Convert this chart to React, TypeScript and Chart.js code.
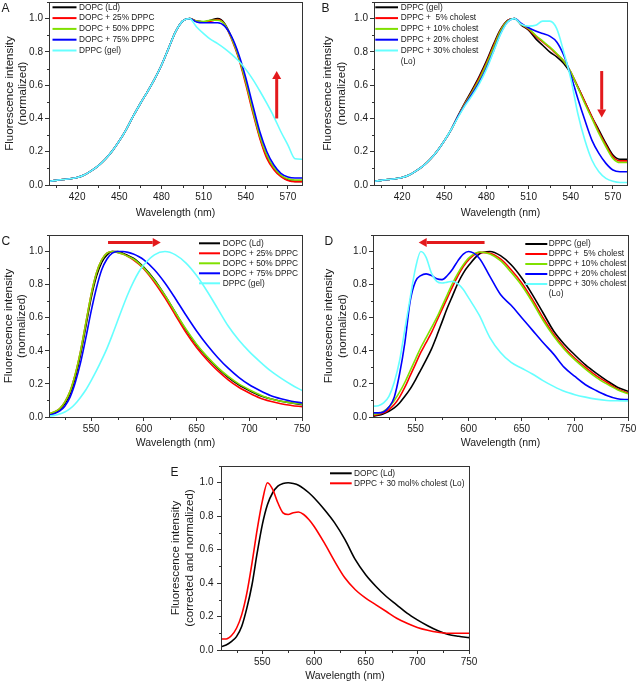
import React, { useEffect, useRef } from 'react';
import { Chart, registerables } from 'chart.js';

Chart.register(...registerables);

const FONT_FAMILY = "'Liberation Sans', Arial, Helvetica, sans-serif";
const AXIS_COLOR = '#333333';
const TEXT_COLOR = '#1a1a1a';
const ARROW_COLOR = '#e3191c';
const C_BLACK = '#000000';
const C_RED = '#ff0000';
const C_GREEN = '#80e000';
const C_BLUE = '#0000ff';
const C_CYAN = '#66ffff';

// ---------- Panels A & B: wavelength 400-580 nm ----------
const wlAB = [400, 405, 410, 415, 420, 425, 430, 435, 440, 445, 450, 455, 460, 465, 470, 475, 480, 485, 490, 495, 500,
  505, 510, 515, 520, 525, 530, 535, 540, 545, 550, 555, 560, 565, 570, 575, 580];
const xTicksAB = [420, 450, 480, 510, 540, 570];

const aDopc = [0.022, 0.028, 0.033, 0.038, 0.045, 0.06, 0.085, 0.115, 0.155, 0.205, 0.265, 0.335, 0.415, 0.49, 0.56, 0.635, 0.72, 0.82, 0.92, 0.985, 1.0,
  0.985, 0.98, 0.99, 1.0, 0.97, 0.885, 0.77, 0.62, 0.45, 0.29, 0.17, 0.1, 0.055, 0.03, 0.022, 0.022];
const aDppc25 = [0.022, 0.028, 0.033, 0.038, 0.045, 0.06, 0.085, 0.115, 0.155, 0.205, 0.265, 0.335, 0.415, 0.49, 0.56, 0.635, 0.72, 0.82, 0.92, 0.985, 1.0,
  0.985, 0.98, 0.985, 0.995, 0.965, 0.875, 0.76, 0.605, 0.435, 0.28, 0.16, 0.092, 0.05, 0.027, 0.02, 0.02];
const aDppc50 = [0.022, 0.028, 0.033, 0.038, 0.045, 0.06, 0.085, 0.115, 0.155, 0.205, 0.265, 0.335, 0.415, 0.49, 0.56, 0.635, 0.72, 0.82, 0.92, 0.985, 1.0,
  0.985, 0.983, 0.99, 0.99, 0.965, 0.88, 0.77, 0.62, 0.45, 0.295, 0.18, 0.105, 0.06, 0.037, 0.03, 0.03];
const aDppc75 = [0.022, 0.028, 0.033, 0.038, 0.045, 0.06, 0.085, 0.115, 0.155, 0.205, 0.265, 0.335, 0.415, 0.49, 0.56, 0.635, 0.72, 0.82, 0.92, 0.985, 1.0,
  0.98, 0.975, 0.975, 0.975, 0.955, 0.89, 0.785, 0.645, 0.48, 0.32, 0.2, 0.12, 0.07, 0.048, 0.042, 0.042];
const aDppcGel = [0.022, 0.028, 0.033, 0.038, 0.045, 0.06, 0.085, 0.115, 0.155, 0.205, 0.265, 0.335, 0.415, 0.49, 0.56, 0.635, 0.72, 0.82, 0.92, 0.985, 1.0,
  0.95, 0.91, 0.875, 0.85, 0.82, 0.785, 0.745, 0.695, 0.635, 0.565, 0.49, 0.41, 0.32, 0.24, 0.158, 0.155];

const bGel = [0.022, 0.028, 0.033, 0.038, 0.045, 0.06, 0.085, 0.115, 0.155, 0.205, 0.265, 0.335, 0.42, 0.5, 0.575, 0.655, 0.745, 0.845, 0.935, 0.99, 1.0,
  0.96, 0.93, 0.88, 0.84, 0.8, 0.77, 0.73, 0.67, 0.59, 0.5, 0.41, 0.33, 0.25, 0.18, 0.155, 0.155];
const bChol5 = [0.022, 0.028, 0.033, 0.038, 0.045, 0.06, 0.085, 0.115, 0.155, 0.205, 0.265, 0.335, 0.415, 0.495, 0.565, 0.645, 0.735, 0.835, 0.93, 0.988, 1.0,
  0.965, 0.935, 0.895, 0.86, 0.825, 0.785, 0.745, 0.68, 0.59, 0.5, 0.41, 0.32, 0.24, 0.17, 0.145, 0.145];
const bChol10 = [0.022, 0.028, 0.033, 0.038, 0.045, 0.06, 0.085, 0.115, 0.155, 0.205, 0.265, 0.335, 0.415, 0.49, 0.56, 0.635, 0.725, 0.825, 0.925, 0.985, 1.0,
  0.965, 0.94, 0.9, 0.865, 0.83, 0.79, 0.745, 0.68, 0.585, 0.49, 0.4, 0.31, 0.23, 0.16, 0.135, 0.135];
const bChol20 = [0.022, 0.028, 0.033, 0.038, 0.045, 0.06, 0.085, 0.115, 0.155, 0.205, 0.265, 0.335, 0.415, 0.485, 0.55, 0.62, 0.705, 0.805, 0.91, 0.98, 1.0,
  0.97, 0.945, 0.925, 0.91, 0.895, 0.86, 0.78, 0.66, 0.52, 0.39, 0.27, 0.19, 0.13, 0.09, 0.08, 0.08];
const bChol30 = [0.022, 0.028, 0.033, 0.038, 0.045, 0.06, 0.085, 0.115, 0.155, 0.205, 0.265, 0.335, 0.41, 0.48, 0.54, 0.61, 0.695, 0.8, 0.905, 0.978, 1.0,
  0.965, 0.955, 0.96, 0.985, 0.985, 0.94, 0.8, 0.64, 0.43, 0.27, 0.15, 0.08, 0.04, 0.022, 0.015, 0.015];

// ---------- Panels C, D & E: wavelength 510-750 nm ----------
const wlCDE = [510, 515, 520, 525, 530, 535, 540, 545, 550, 555, 560, 565, 570, 575, 580, 585, 590, 595, 600,
  610, 620, 630, 640, 650, 660, 670, 680, 690, 700, 710, 720, 730, 740, 750];
const xTicksCDE = [550, 600, 650, 700, 750];

const cDopc = [0.015, 0.025, 0.045, 0.08, 0.14, 0.24, 0.38, 0.55, 0.72, 0.85, 0.935, 0.98, 1.0, 1.0, 0.99, 0.975, 0.96, 0.935, 0.905,
  0.83, 0.735, 0.63, 0.525, 0.435, 0.36, 0.295, 0.24, 0.195, 0.16, 0.13, 0.11, 0.095, 0.085, 0.075];
const cDppc25 = [0.02, 0.03, 0.05, 0.09, 0.155, 0.26, 0.4, 0.57, 0.74, 0.87, 0.95, 0.99, 1.0, 0.995, 0.985, 0.97, 0.95, 0.925, 0.895,
  0.815, 0.72, 0.615, 0.51, 0.42, 0.345, 0.28, 0.225, 0.18, 0.145, 0.115, 0.095, 0.08, 0.07, 0.062];
const cDppc50 = [0.02, 0.03, 0.05, 0.09, 0.155, 0.26, 0.4, 0.57, 0.74, 0.87, 0.95, 0.99, 1.0, 0.995, 0.985, 0.97, 0.955, 0.93, 0.9,
  0.825, 0.735, 0.63, 0.53, 0.44, 0.365, 0.3, 0.245, 0.2, 0.165, 0.135, 0.11, 0.095, 0.085, 0.078];
const cDppc75 = [0.01, 0.02, 0.035, 0.065, 0.12, 0.21, 0.33, 0.48, 0.64, 0.78, 0.89, 0.955, 0.99, 1.0, 1.0, 0.995, 0.985, 0.97, 0.95,
  0.89, 0.81, 0.715, 0.615, 0.52, 0.435, 0.36, 0.295, 0.24, 0.195, 0.16, 0.13, 0.11, 0.095, 0.085];
const cDppcGel = [0.005, 0.01, 0.018, 0.03, 0.05, 0.08, 0.12, 0.165, 0.22, 0.28, 0.345, 0.415, 0.495, 0.58, 0.665, 0.745, 0.815, 0.875, 0.92,
  0.98, 1.0, 0.98, 0.93, 0.855, 0.76, 0.655, 0.55, 0.465, 0.395, 0.335, 0.28, 0.235, 0.195, 0.16];

const dGel = [0.005, 0.01, 0.02, 0.035, 0.055, 0.085, 0.125, 0.17, 0.225, 0.285, 0.345, 0.41, 0.49, 0.575, 0.66, 0.735, 0.81, 0.87, 0.915,
  0.985, 1.0, 0.975, 0.92, 0.84, 0.74, 0.63, 0.52, 0.44, 0.375, 0.315, 0.265, 0.22, 0.18, 0.155];
const dChol5 = [0.01, 0.015, 0.025, 0.045, 0.075, 0.12, 0.18, 0.25, 0.32, 0.39, 0.45, 0.51, 0.58, 0.65, 0.72, 0.79, 0.855, 0.91, 0.95,
  0.995, 0.99, 0.955, 0.89, 0.81, 0.71, 0.6, 0.5, 0.42, 0.355, 0.3, 0.25, 0.21, 0.17, 0.145];
const dChol10 = [0.015, 0.02, 0.035, 0.06, 0.1, 0.15, 0.21, 0.28, 0.35, 0.42, 0.48, 0.54, 0.6, 0.67, 0.74, 0.81, 0.87, 0.92, 0.96,
  0.997, 0.985, 0.945, 0.875, 0.795, 0.695, 0.585, 0.49, 0.41, 0.345, 0.29, 0.24, 0.2, 0.165, 0.14];
const dChol20 = [0.025, 0.025, 0.03, 0.06, 0.12, 0.26, 0.45, 0.7, 0.82, 0.855, 0.865, 0.855, 0.835, 0.83, 0.855, 0.895, 0.945, 0.985, 1.0,
  0.96, 0.85, 0.74, 0.675, 0.6, 0.525, 0.45, 0.38, 0.3, 0.245, 0.195, 0.16, 0.13, 0.11, 0.105];
const dChol30 = [0.065, 0.068, 0.085, 0.125, 0.21, 0.34, 0.53, 0.72, 0.9, 1.0, 0.965, 0.87, 0.82, 0.81, 0.815, 0.82, 0.805, 0.77, 0.72,
  0.615, 0.48, 0.39, 0.33, 0.295, 0.26, 0.22, 0.185, 0.155, 0.135, 0.12, 0.108, 0.1, 0.098, 0.097];

const eDopc = [0.02, 0.03, 0.05, 0.08, 0.14, 0.25, 0.39, 0.58, 0.75, 0.87, 0.94, 0.98, 0.995, 1.0, 0.995, 0.985, 0.965, 0.94, 0.91,
  0.84, 0.76, 0.66, 0.54, 0.45, 0.38, 0.32, 0.27, 0.22, 0.18, 0.145, 0.115, 0.093, 0.082, 0.074];
const eChol30 = [0.066, 0.066, 0.085, 0.13, 0.21, 0.34, 0.52, 0.72, 0.89, 1.0, 0.96, 0.88, 0.82, 0.81, 0.82, 0.825, 0.81, 0.78, 0.74,
  0.64, 0.53, 0.43, 0.36, 0.31, 0.27, 0.23, 0.19, 0.16, 0.135, 0.118, 0.106, 0.1, 0.1, 0.1];

// legend labels
const labelsA = ['DOPC (Ld)', 'DOPC + 25% DPPC', 'DOPC + 50% DPPC', 'DOPC + 75% DPPC', 'DPPC (gel)'];
const labelsB = ['DPPC (gel)', 'DPPC +  5% cholest', 'DPPC + 10% cholest', 'DPPC + 20% cholest', 'DPPC + 30% cholest\n(Lo)'];
const labelsE = ['DOPC (Ld)', 'DPPC + 30 mol% cholest (Lo)'];
const colors5 = [C_BLACK, C_RED, C_GREEN, C_BLUE, C_CYAN];

// y axis ticks
const yMin = 0;
const yMax = 1.1;
const yTicks = [0, 0.2, 0.4, 0.6, 0.8, 1.0];
const yMinor = 0.1;
const yStep = 0.2;

type Series = { label: string; color: string; values: number[] };
type Box = { left: number; top: number; width: number; height: number };
type Plot = { left: number; top: number; right: number; bottom: number };
type PanelCfg = {
  letter: string;
  letterPos: { x: number; y: number };
  box: Box;
  plot: Plot;
  x: { min: number; max: number; step: number; minor: number; ticks: number[] };
  wl: number[];
  series: Series[];
  yTitle: string[];
  yTitlePad: number;
  yTickPad: number;
  legend: { dx: number; dy: number; lineLen: number; gap: number; row: number };
  arrow?: { x1: number; y1: number; x2: number; y2: number };
};

const mk = (labels: string[], cols: string[], vals: number[][]): Series[] =>
  labels.map((label, i) => ({ label, color: cols[i], values: vals[i] }));

const panels: PanelCfg[] = [
  {
    letter: 'A', letterPos: { x: 1.5, y: 12 },
    box: { left: 0, top: 0, width: 319, height: 220 },
    plot: { left: 49, top: 2, right: 302, bottom: 185 },
    x: { min: 400, max: 580, step: 30, minor: 15, ticks: xTicksAB },
    wl: wlAB,
    series: mk(labelsA, colors5, [aDopc, aDppc25, aDppc50, aDppc75, aDppcGel]),
    yTitle: ['Fluorescence intensity', '(normalized)'], yTitlePad: 2.5, yTickPad: 2,
    legend: { dx: 3.5, dy: 5.3, lineLen: 24, gap: 2.5, row: 10.8 },
    arrow: { x1: 562, y1: 0.4, x2: 562, y2: 0.685 },
  },
  {
    letter: 'B', letterPos: { x: 2.5, y: 12 },
    box: { left: 319, top: 0, width: 319, height: 220 },
    plot: { left: 374, top: 2, right: 627, bottom: 185 },
    x: { min: 400, max: 580, step: 30, minor: 15, ticks: xTicksAB },
    wl: wlAB,
    series: mk(labelsB, colors5, [bGel, bChol5, bChol10, bChol20, bChol30]),
    yTitle: ['Fluorescence intensity', '(normalized)'], yTitlePad: 2, yTickPad: 2,
    legend: { dx: 1.3, dy: 5.3, lineLen: 22.7, gap: 2.7, row: 10.8 },
    arrow: { x1: 562, y1: 0.685, x2: 562, y2: 0.405 },
  },
  {
    letter: 'C', letterPos: { x: 1.5, y: 25 },
    box: { left: 0, top: 220, width: 319, height: 230 },
    plot: { left: 49, top: 235, right: 302, bottom: 417 },
    x: { min: 510, max: 750, step: 50, minor: 25, ticks: xTicksCDE },
    wl: wlCDE,
    series: mk(labelsA, colors5, [cDopc, cDppc25, cDppc50, cDppc75, cDppcGel]),
    yTitle: ['Fluorescence intensity', '(normalized)'], yTitlePad: 1.5, yTickPad: 2,
    legend: { dx: 150, dy: 8.3, lineLen: 21, gap: 2.7, row: 10 },
    arrow: { x1: 566, y1: 1.055, x2: 616, y2: 1.055 },
  },
  {
    letter: 'D', letterPos: { x: 5.5, y: 25 },
    box: { left: 319, top: 220, width: 319, height: 230 },
    plot: { left: 373, top: 235, right: 628, bottom: 417 },
    x: { min: 510, max: 750, step: 50, minor: 25, ticks: xTicksCDE },
    wl: wlCDE,
    series: mk(labelsB, colors5, [dGel, dChol5, dChol10, dChol20, dChol30]),
    yTitle: ['Fluorescence intensity', '(normalized)'], yTitlePad: 3, yTickPad: 2,
    legend: { dx: 152.3, dy: 9, lineLen: 22, gap: 1.4, row: 10 },
    arrow: { x1: 615, y1: 1.055, x2: 553, y2: 1.055 },
  },
  {
    letter: 'E', letterPos: { x: 20.5, y: 26 },
    box: { left: 150, top: 450, width: 340, height: 233 },
    plot: { left: 221, top: 466, right: 469, bottom: 650 },
    x: { min: 510, max: 750, step: 50, minor: 25, ticks: xTicksCDE },
    wl: wlCDE,
    series: mk(labelsE, [C_BLACK, C_RED], [eDopc, eChol30]),
    yTitle: ['Fluorescence intensity', '(corrected and normalized)'], yTitlePad: 19, yTickPad: 3.5,
    legend: { dx: 109, dy: 7.3, lineLen: 21.7, gap: 2.3, row: 10 },
  },
];

const TICK_FONT = { family: FONT_FAMILY, size: 10 };
const XTITLE_FONT = { family: FONT_FAMILY, size: 10.5 };
const YTITLE_FONT = { family: FONT_FAMILY, size: 11.5, lineHeight: 1.2 };
const LEGEND_SIZE = 8.3;

function isMajor(v: number, step: number) {
  const r = v / step;
  return Math.abs(r - Math.round(r)) < 1e-6;
}

function Panel({ cfg }: { cfg: PanelCfg }) {
  const ref = useRef<HTMLCanvasElement | null>(null);

  useEffect(() => {
    const canvas = ref.current;
    if (!canvas) return;
    const { box, plot } = cfg;

    const decor = {
      id: 'decor',
      afterDraw(chart: any) {
        const { ctx, chartArea: ca, scales } = chart;
        const xs = scales.x;
        const ys = scales.y;
        ctx.save();
        // minor ticks
        ctx.strokeStyle = AXIS_COLOR;
        ctx.lineWidth = 1;
        ctx.beginPath();
        const bottom = Math.round(ca.bottom) + 0.5;
        const left = Math.round(ca.left) + 0.5;
        for (let v = Math.ceil(cfg.x.min / cfg.x.minor) * cfg.x.minor; v <= cfg.x.max + 1e-6; v += cfg.x.minor) {
          if (isMajor(v, cfg.x.step)) continue;
          const px = Math.round(xs.getPixelForValue(v)) + 0.5;
          ctx.moveTo(px, bottom);
          ctx.lineTo(px, bottom + 2.5);
        }
        for (let k = 0; yMin + k * yMinor <= yMax + 1e-6; k++) {
          const v = yMin + k * yMinor;
          if (isMajor(v, yStep)) continue;
          const py = Math.round(ys.getPixelForValue(v)) + 0.5;
          ctx.moveTo(left, py);
          ctx.lineTo(left - 2.5, py);
        }
        ctx.stroke();
        // frame
        ctx.strokeRect(left, Math.round(ca.top) + 0.5, Math.round(ca.right) - Math.round(ca.left), Math.round(ca.bottom) - Math.round(ca.top));

        // arrow
        if (cfg.arrow) {
          const a = cfg.arrow;
          const x1 = xs.getPixelForValue(a.x1);
          const y1 = ys.getPixelForValue(a.y1);
          const x2 = xs.getPixelForValue(a.x2);
          const y2 = ys.getPixelForValue(a.y2);
          const ang = Math.atan2(y2 - y1, x2 - x1);
          const headLen = 8;
          const headHalf = 4.5;
          const bx = x2 - headLen * Math.cos(ang);
          const by = y2 - headLen * Math.sin(ang);
          ctx.strokeStyle = ARROW_COLOR;
          ctx.fillStyle = ARROW_COLOR;
          ctx.lineWidth = 3;
          ctx.lineCap = 'butt';
          ctx.beginPath();
          ctx.moveTo(x1, y1);
          ctx.lineTo(bx, by);
          ctx.stroke();
          ctx.beginPath();
          ctx.moveTo(x2, y2);
          ctx.lineTo(bx + headHalf * Math.sin(ang), by - headHalf * Math.cos(ang));
          ctx.lineTo(bx - headHalf * Math.sin(ang), by + headHalf * Math.cos(ang));
          ctx.closePath();
          ctx.fill();
        }

        // legend
        const lg = cfg.legend;
        ctx.font = `${LEGEND_SIZE}px ${FONT_FAMILY}`;
        ctx.textBaseline = 'middle';
        ctx.textAlign = 'left';
        let row = 0;
        cfg.series.forEach((s) => {
          const lines = s.label.split('\n');
          const y = ca.top + lg.dy + row * lg.row;
          ctx.strokeStyle = s.color;
          ctx.lineWidth = 2;
          ctx.beginPath();
          ctx.moveTo(ca.left + lg.dx, y);
          ctx.lineTo(ca.left + lg.dx + lg.lineLen, y);
          ctx.stroke();
          ctx.fillStyle = TEXT_COLOR;
          lines.forEach((t, k) => {
            ctx.fillText(t, ca.left + lg.dx + lg.lineLen + lg.gap, ca.top + lg.dy + (row + k) * lg.row);
          });
          row += lines.length;
        });

        // panel letter
        ctx.font = `12px ${FONT_FAMILY}`;
        ctx.textBaseline = 'alphabetic';
        ctx.fillStyle = TEXT_COLOR;
        ctx.fillText(cfg.letter, cfg.letterPos.x, cfg.letterPos.y);
        ctx.restore();
      },
    };

    const datasets = cfg.series.map((s, i) => ({
      label: s.label,
      data: cfg.wl.map((x, j) => ({ x, y: s.values[j] })),
      borderColor: s.color,
      backgroundColor: s.color,
      borderWidth: 1.6,
      pointRadius: 0,
      cubicInterpolationMode: 'monotone' as const,
      fill: false,
      order: cfg.series.length - i,
    }));

    const chart = new Chart(canvas, {
      type: 'line',
      data: { datasets },
      options: {
        animation: false,
        responsive: false,
        maintainAspectRatio: false,
        devicePixelRatio: 1,
        layout: {
          padding: { left: 0, top: plot.top - box.top, right: box.left + box.width - plot.right, bottom: 0 },
        },
        plugins: { legend: { display: false }, tooltip: { enabled: false } },
        scales: {
          x: {
            type: 'linear',
            min: cfg.x.min,
            max: cfg.x.max,
            afterBuildTicks: (s: any) => {
              s.ticks = cfg.x.ticks.map((value) => ({ value }));
            },
            ticks: {
              autoSkip: false,
              maxRotation: 0,
              padding: 2,
              font: TICK_FONT,
              color: TEXT_COLOR,
              callback: (v: any) => String(v),
            },
            grid: { display: true, drawOnChartArea: false, drawTicks: true, tickLength: 4, color: AXIS_COLOR, tickColor: AXIS_COLOR },
            border: { display: true, color: AXIS_COLOR },
            title: { display: true, text: 'Wavelength (nm)', font: XTITLE_FONT, color: TEXT_COLOR, padding: { top: 0, bottom: 0.5 } },
            afterFit: (s: any) => {
              s.height = box.top + box.height - plot.bottom;
              s.paddingLeft = 0;
              s.paddingRight = 0;
            },
          },
          y: {
            type: 'linear',
            min: yMin,
            max: yMax,
            afterBuildTicks: (s: any) => {
              s.ticks = yTicks.map((value) => ({ value }));
            },
            ticks: {
              autoSkip: false,
              padding: cfg.yTickPad,
              font: TICK_FONT,
              color: TEXT_COLOR,
              callback: (v: any) => Number(v).toFixed(1),
            },
            grid: { display: true, drawOnChartArea: false, drawTicks: true, tickLength: 4, color: AXIS_COLOR, tickColor: AXIS_COLOR },
            border: { display: true, color: AXIS_COLOR },
            title: { display: true, text: cfg.yTitle, font: YTITLE_FONT, color: TEXT_COLOR, padding: { top: cfg.yTitlePad, bottom: 0 } },
            afterFit: (s: any) => {
              s.width = plot.left - box.left;
              s.paddingTop = 0;
              s.paddingBottom = 0;
            },
          },
        },
      } as any,
      plugins: [decor],
    });
    return () => chart.destroy();
  }, [cfg]);

  return (
    <canvas
      ref={ref}
      width={cfg.box.width}
      height={cfg.box.height}
      style={{ position: 'absolute', left: cfg.box.left, top: cfg.box.top, width: cfg.box.width, height: cfg.box.height }}
    />
  );
}

export default function App() {
  return (
    <div style={{ position: 'absolute', left: 0, top: 0, width: 638, height: 683, background: '#ffffff', overflow: 'hidden' }}>
      {panels.map((p) => (
        <Panel key={p.letter} cfg={p} />
      ))}
    </div>
  );
}
